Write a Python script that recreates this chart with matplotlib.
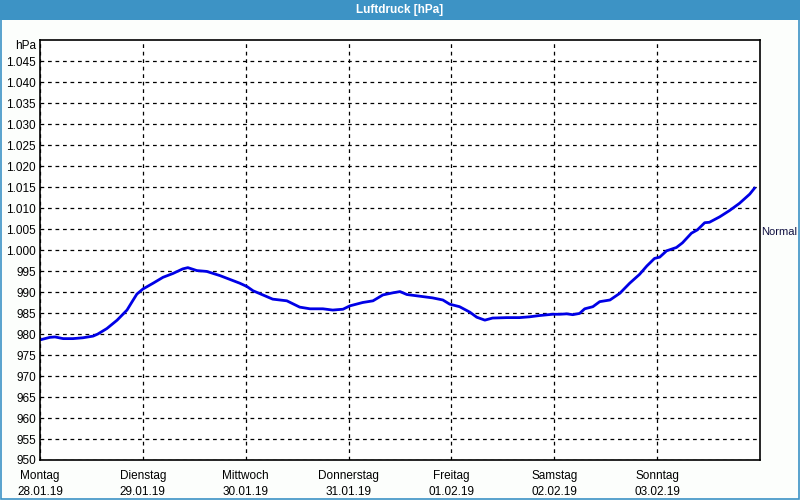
import numpy as np
import matplotlib.pyplot as plt
from matplotlib.patches import Rectangle
from matplotlib.ticker import FuncFormatter

# hours since Monday 00:00 and air pressure in hPa
hours = [0, 2.3, 3.5, 5.4, 7.7, 10, 12.4, 13.5, 15.6, 18, 20.3, 21.5, 22.6, 24,
         26.4, 28.7, 31, 33.3, 34.5, 36.6, 38.9, 42, 44.3, 46.6, 48.3, 49.7, 52,
         54.3, 57.6, 60.6, 63, 66, 68.3, 70.7, 72.3, 75.3, 77.7, 80, 82.3, 84,
         85.6, 88.6, 91.6, 94, 95.6, 97.9, 100.3, 101.9, 103.8, 105.6, 108.9,
         111.9, 114.3, 116.6, 119.6, 121.3, 122.9, 124.3, 125.9, 127.1, 129,
         130.6, 133, 135.3, 137.6, 139.9, 141.6, 143.4, 144.6, 146.2, 148.5,
         149.9, 152, 153.4, 155.1, 156.2, 158.6, 160.9, 163.2, 165.6, 166.7]
pressure = [978.6, 979.2, 979.3, 978.9, 978.9, 979.1, 979.5, 980.0, 981.3, 983.3,
            985.7, 987.7, 989.5, 990.7, 992.1, 993.5, 994.4, 995.5, 995.8, 995.1,
            994.9, 993.9, 993.0, 992.1, 991.3, 990.3, 989.3, 988.3, 987.9, 986.4,
            986.0, 986.0, 985.7, 985.9, 986.7, 987.5, 987.9, 989.3, 989.8, 990.1,
            989.4, 989.0, 988.6, 988.1, 987.1, 986.5, 985.2, 984.0, 983.3, 983.8,
            983.9, 983.9, 984.1, 984.4, 984.7, 984.7, 984.8, 984.6, 984.9, 986.0,
            986.5, 987.7, 988.1, 989.7, 992.1, 994.2, 996.2, 998.0, 998.3, 999.8,
            1000.6, 1001.7, 1004.0, 1004.8, 1006.5, 1006.6, 1007.9, 1009.4,
            1011.1, 1013.3, 1014.7]

days = ["Montag", "Dienstag", "Mittwoch", "Donnerstag", "Freitag", "Samstag", "Sonntag"]
dates = ["28.01.19", "29.01.19", "30.01.19", "31.01.19", "01.02.19", "02.02.19", "03.02.19"]
normal = 1004.3

plt.rcParams['font.family'] = ['Liberation Sans', 'DejaVu Sans']
plt.rcParams['font.size'] = 8.5

fig = plt.figure(figsize=(8, 5), dpi=100)
fig.patch.set_facecolor('#fcfefc')

# title bar and window border
fig.patches.append(Rectangle((0, 0.96), 1, 0.04, transform=fig.transFigure,
                             facecolor='#3d93c5', edgecolor='none'))
fig.patches.append(Rectangle((0.001, 0.003), 0.998, 0.97, transform=fig.transFigure,
                             facecolor='none', edgecolor='#3d93c5', linewidth=1.2))
fig.text(0.5, 0.979, "Luftdruck [hPa]", color='white', fontweight='bold',
         ha='center', va='center', fontsize=8.5)

ax = fig.add_axes([0.05, 0.08, 0.9, 0.84])
ax.set_facecolor('white')
ax.plot(np.array(hours) / 24, pressure, color='#0000e6', linewidth=2)

ax.set_xlim(0, 7)
ax.set_ylim(950, 1050)
ax.set_yticks(np.arange(950, 1046, 5))
ax.yaxis.set_major_formatter(FuncFormatter(lambda v, p: f"{v:,.0f}".replace(",", ".")))
ax.set_xticks(np.arange(0, 7))
ax.set_xticklabels([d + "\n" + t for d, t in zip(days, dates)], linespacing=1.45)
ax.tick_params(axis='both', length=0, pad=3, colors='black')
ax.tick_params(axis='x', pad=7)

ax.grid(True, color='black', linestyle=(0, (3, 3)), linewidth=0.9)
for s in ax.spines.values():
    s.set_linewidth(1.2)

ax.text(-0.005, 1048.5, "hPa", ha='right', va='center', transform=ax.get_yaxis_transform())
ax.text(1.002, normal, "Normal", ha='left', va='center', color='#101040', fontsize=8,
        transform=ax.get_yaxis_transform())

plt.savefig("out.png", dpi=100, facecolor=fig.get_facecolor())
